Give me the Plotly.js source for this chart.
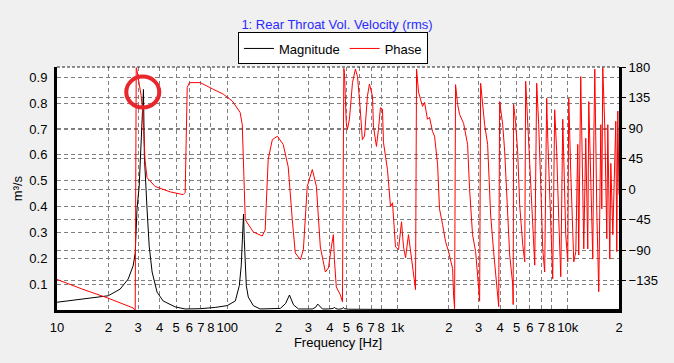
<!DOCTYPE html>
<html>
<head>
<meta charset="utf-8">
<script src="https://cdn.plot.ly/plotly-3.0.1.min.js"></script>
<style>html,body{margin:0;padding:0;background:#f0f0f0;}#chart{width:674px;height:363px;}</style>
</head>
<body>
<div id="chart"></div>
<script>
// ---- Data ----
const chartTitle = "1: Rear Throat Vol. Velocity (rms)";

// Magnitude [m³/s] vs frequency [Hz]
const magFreq = [10, 20, 23.5, 26.2, 28, 28.8, 29.5, 30.4, 31.2, 31.9, 32.2, 32.6, 33.2, 33.8, 34.8, 36.2, 38.7, 42, 49.4, 56.6,
  69.4, 85, 100, 111.5, 117.7, 120.8, 123.7, 124.7, 125.9, 129.4, 132.9, 142.2, 156, 191.5, 205, 220, 232, 245, 262,
  316, 330, 340, 352, 362, 393, 420, 426, 432, 450, 475, 481, 487, 515, 1000, 20000];
const magValue = [0.030, 0.055, 0.081, 0.12, 0.171, 0.22, 0.39, 0.48, 0.65, 0.776, 0.853, 0.595, 0.48, 0.39, 0.247, 0.147, 0.069, 0.035, 0.012, 0.004,
  0.005, 0.010, 0.017, 0.035, 0.094, 0.171, 0.325, 0.371, 0.274, 0.094, 0.05, 0.017, 0.004, 0.004, 0.006, 0.025, 0.058, 0.02, 0.004,
  0.004, 0.01, 0.023, 0.01, 0.004, 0.004, 0.006, 0.011, 0.006, 0.003, 0.005, 0.01, 0.005, 0.003, 0.002, 0.002];

// Phase [deg] vs frequency [Hz]
const phaseFreq = [
  10, 14, 19.7, 23.5, 28, 28.8, 29.2, 29.5, 30.4, 31.2, 32.0, 32.5, 32.9, 33.8, 37.7, 46.2, 55.1, 56.6, 57.4, 58.2,
  60, 69.4, 81.6, 94.7, 107, 116, 119, 122.5, 124, 127.6, 142.2, 160.6, 167, 174, 184, 197, 213, 228, 241, 251,
  269, 280, 295, 316, 334, 352, 377, 393, 409, 420, 426, 437, 462, 475, 484, 488, 500, 508, 522, 544,
  566, 582, 600, 622, 640, 666, 684, 713, 722, 752, 773, 794, 816, 827, 873, 910, 935, 973, 1014, 1056,
  1085, 1115, 1160, 1225, 1276, 1294, 1329, 1403, 1442, 1500, 1542, 1606, 1651, 1720, 1765, 1840, 1915, 1995, 2107, 2135,
  2164, 2193, 2254, 2317, 2445, 2580, 2650, 2760, 2876, 3000, 3037, 3078, 3160, 3250, 3383, 3525, 3670, 3820, 3930, 3980,
  4150, 4260, 4440, 4560, 4750, 4780, 4810, 4940, 5080, 5220, 5440, 5590, 5660, 5820, 6000, 6220, 6400, 6570, 6750, 6940,
  7130, 7320, 7520, 7630, 7830, 8040, 8160, 8380, 8610, 8850, 9100, 9350, 9470, 9730, 10000, 10136, 10410, 10700, 10850, 11150,
  11450, 11600, 11920, 12250, 12420, 12760, 13110, 13290, 13650, 14030, 14220, 14420, 14810, 15210, 15640, 15850, 16060, 16510, 16960, 17190,
  17660, 17900, 18400, 18650, 19150, 19410, 19680, 20000];
const phaseDeg = [
  -133, -147, -160, -167, -175, -179, 179, 175, 155, 138, 110, 80, 42, 17, 4, -4, -8, -5, 100, 150,
  157, 157, 148, 140, 130, 118, 113, 95, 44, -45, -63, -69, -60, 44, 73, 78, 66, 33, -45, -94,
  -104, -89, 4, 29, 4, -85, -122, -116, -85, -67, -104, -144, -156, -166, 178, 172, 98, 88, 103, 157,
  177, 166, 128, 73, 78, 137, 155, 137, 93, 63, 88, 120, 118, 69, 29, -26, -20, -85, -89, -48,
  -85, -101, -67, -114, -148, 177, 143, 122, 128, 103, 106, 85, 78, 36, -29, -52, -77, -92, -117, -156,
  -176, 154, 125, 110, 97, 66, 1, -67, -92, -147, -165, 156, 125, 95, 66, -38, -92, -137, -173, 129,
  95, 56, -29, -97, -140, -170, 125, 97, 56, -23, -82, -107, 159, 100, 36, -33, -112, 156, 95, 7,
  -88, -122, 134, 75, 1, -73, -132, 117, 56, -43, -129, 103, 41, -67, -107, 134, 26, -67, -107, -92,
  66, -97, 166, 1, -88, 75, -88, 129, -8, -103, 70, 177, -33, -151, 95, -29, 179, 90, -73, 95,
  -103, 38, -67, 1, 100, -92, 115, -8];

// Axis ticks
const xTickVals = [10, 20, 30, 40, 50, 60, 70, 80, 100, 200, 300, 400, 500, 600, 700, 800,
  1000, 2000, 3000, 4000, 5000, 6000, 7000, 8000, 10000, 20000];
const xTickText = ["10", "2", "3", "4", "5", "6", "7", "8", "100", "2", "3", "4", "5", "6", "7", "8",
  "1k", "2", "3", "4", "5", "6", "7", "8", "10k", "2"];
const yTickVals = [0.1, 0.2, 0.3, 0.4, 0.5, 0.6, 0.7, 0.8, 0.9];
const y2TickVals = [-135, -90, -45, 0, 45, 90, 135, 180];

// Highlight circle (around the main resonance)
const highlightFreq = 31.9;
const highlightMag = 0.843;

// ---- Chart ----
const FONT = "'Liberation Sans', Arial, sans-serif";
const gridStyle = {showgrid: true, gridcolor: '#808080', gridwidth: 1, griddash: '4px,3px'};
const X_RANGE = [1, Math.log10(20000)];
const Y_RANGE = [0, 0.94];
const PLOT_W = 674 - 57 - 55, PLOT_H = 363 - 67 - 53;

// highlight circle in axis-domain fractions (computed from the data anchor)
const cx = (Math.log10(highlightFreq) - X_RANGE[0]) / (X_RANGE[1] - X_RANGE[0]);
const cy = (highlightMag - Y_RANGE[0]) / (Y_RANGE[1] - Y_RANGE[0]);
const rx = 16.5 / PLOT_W, ry = 15.5 / PLOT_H;

const traces = [
  {x: magFreq, y: magValue, type: 'scatter', mode: 'lines', name: 'Magnitude',
   line: {color: '#000000', width: 1}, yaxis: 'y'},
  {x: phaseFreq, y: phaseDeg, type: 'scatter', mode: 'lines', name: 'Phase',
   line: {color: '#ff0000', width: 1}, yaxis: 'y2'}
];

const layout = {
  width: 674, height: 363,
  paper_bgcolor: '#f0f0f0', plot_bgcolor: '#ffffff',
  margin: {l: 57, r: 55, t: 67, b: 53, pad: 0},
  font: {family: FONT, size: 13, color: '#000000'},
  title: {text: chartTitle, font: {family: FONT, size: 13, color: '#2a2aff'},
          x: 0.5, xanchor: 'center', y: 0.932, yanchor: 'middle', yref: 'container'},
  showlegend: true,
  legend: {orientation: 'h', x: 0.491, xanchor: 'center', y: 1.142, yanchor: 'top',
           bgcolor: '#ffffff', bordercolor: '#000000', borderwidth: 1,
           font: {family: FONT, size: 13}, itemwidth: 30, tracegroupgap: 0},
  xaxis: Object.assign({
    type: 'log', range: X_RANGE, autorange: false,
    tickmode: 'array', tickvals: xTickVals, ticktext: xTickText,
    ticks: '', ticklabelstandoff: 3,
    showline: true, linecolor: '#000000', linewidth: 3, mirror: false, zeroline: false,
    tickfont: {family: FONT, size: 13},
    title: {text: 'Frequency [Hz]', font: {family: FONT, size: 13}, standoff: 1},
    automargin: false
  }, gridStyle),
  yaxis: Object.assign({
    range: Y_RANGE, autorange: false,
    tickmode: 'array', tickvals: yTickVals, ticktext: yTickVals.map(v => v.toFixed(1)),
    ticks: '', ticklabelstandoff: 4,
    showline: true, linecolor: '#000000', linewidth: 3, zeroline: false,
    tickfont: {family: FONT, size: 13},
    title: {text: 'm³/s', font: {family: FONT, size: 13}, standoff: 4},
    automargin: false
  }, gridStyle),
  yaxis2: Object.assign({
    overlaying: 'y', side: 'right',
    range: [-178, 180], autorange: false,
    tickmode: 'array', tickvals: y2TickVals,
    ticks: 'outside', ticklen: 4, tickcolor: '#000000', tickwidth: 1,
    showline: true, linecolor: '#000000', linewidth: 3, zeroline: false,
    tickfont: {family: FONT, size: 13},
    automargin: false
  }, gridStyle),
  shapes: [
    {type: 'line', xref: 'paper', yref: 'paper', x0: 0, x1: 1, y0: 1, y1: 1,
     line: {color: '#222222', width: 1, dash: '3px,2px'}},
    {type: 'circle', xref: 'paper', yref: 'paper', layer: 'above',
     x0: cx - rx, x1: cx + rx, y0: cy - ry, y1: cy + ry,
     line: {color: '#e8262b', width: 4}}
  ]
};

Plotly.newPlot('chart', traces, layout, {displayModeBar: false, staticPlot: true});
</script>
</body>
</html>
